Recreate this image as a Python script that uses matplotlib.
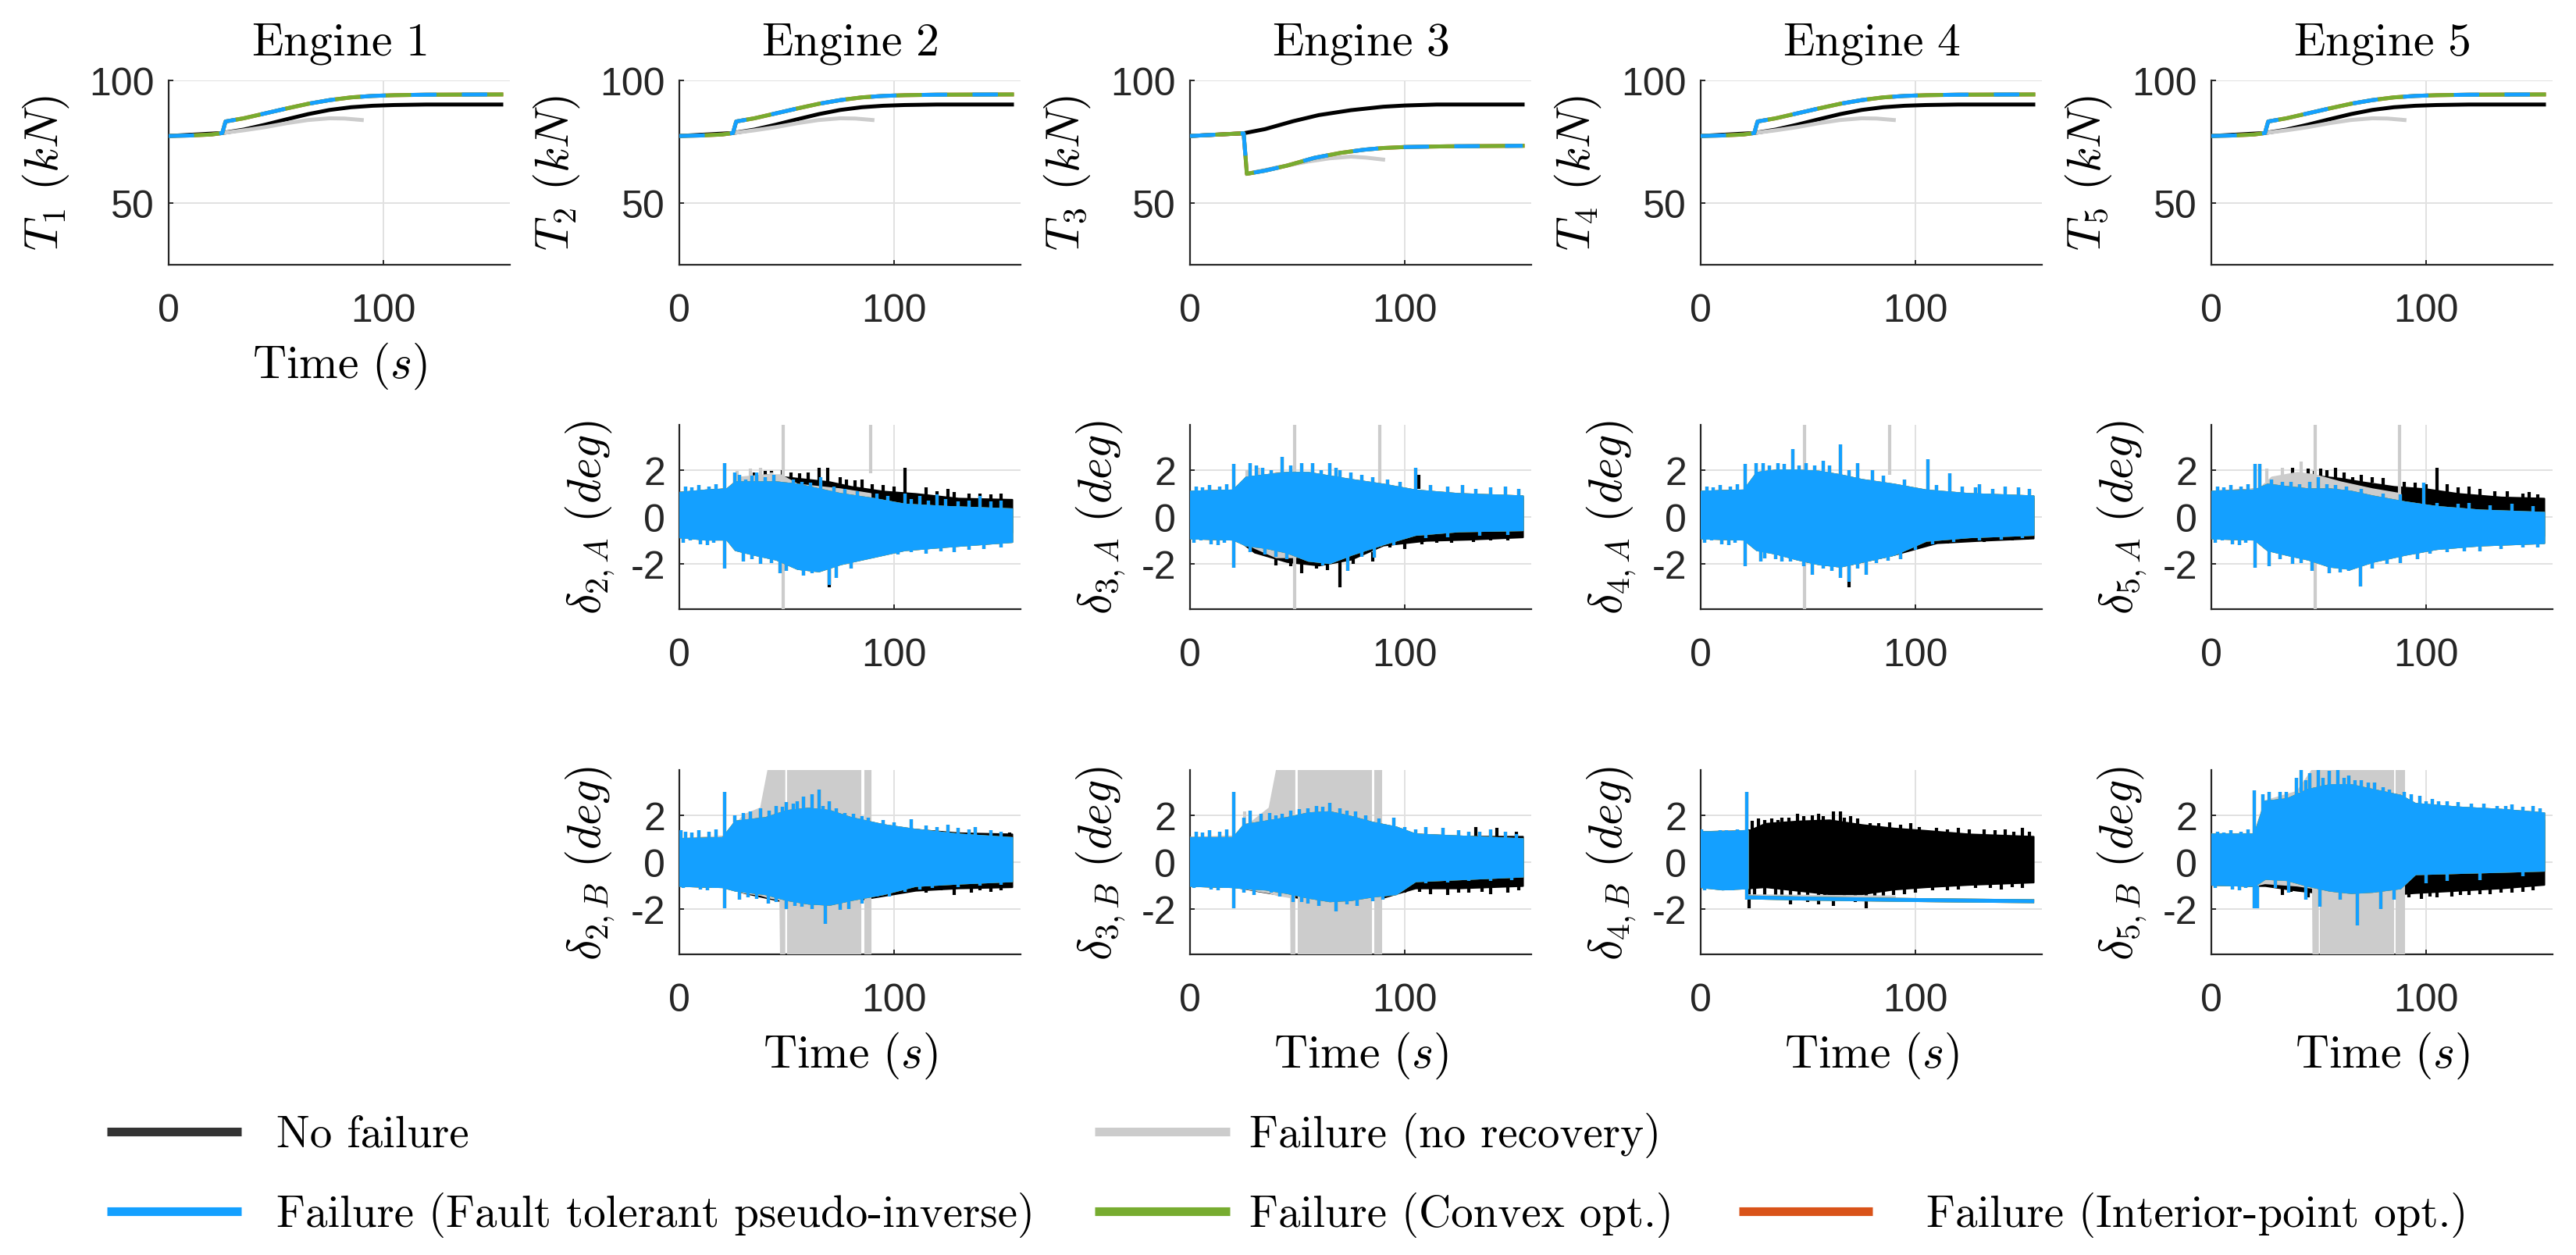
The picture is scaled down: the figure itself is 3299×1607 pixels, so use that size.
import numpy as np
import matplotlib.pyplot as plt
from matplotlib.lines import Line2D

plt.rcParams['mathtext.fontset'] = 'cm'
plt.rcParams['axes.unicode_minus'] = False
plt.rcParams['font.family'] = ['Liberation Sans', 'DejaVu Sans']

nan = np.nan
engines = [1, 2, 3, 4, 5]
labels = ['No failure', 'Failure (no recovery)',
          'Failure (Fault tolerant pseudo-inverse)', 'Failure (Convex opt.)',
          'Failure (Interior-point opt.)']
c_black, c_gray, c_blue, c_green, c_orange = '#000000', '#cccccc', '#14a0ff', '#77ac30', '#d95319'

# thrust (kN), engines 1, 2, 4, 5 look the same
thr_black_t = [0, 25, 35, 45, 55, 65, 75, 85, 95, 105, 120, 155]
thr_black = [77.4, 78.6, 80.0, 82.0, 84.2, 86.3, 88.0, 89.1, 89.7, 90.0, 90.2, 90.2]
thr_gray_t = [25, 35, 45, 55, 65, 75, 82, 90]
thr_gray = [78.6, 79.7, 81.0, 82.6, 83.9, 84.6, 84.5, 83.9]
thr_ft_t = [0, 10, 20, 25, 26.5, 35, 45, 55, 65, 75, 85, 95, 105, 120, 155]
thr_ft = [77.4, 77.6, 78.0, 78.6, 83.3, 84.6, 86.6, 88.6, 90.5, 92.0, 93.1, 93.7, 94.0, 94.2, 94.3]

# thrust (kN), engine 3
thr3_black_t = [0, 25, 35, 48, 60, 75, 90, 100, 115, 155]
thr3_black = [77.4, 78.5, 80.2, 83.4, 85.9, 87.9, 89.3, 89.8, 90.2, 90.2]
thr3_gray_t = [26.5, 40, 55, 65, 75, 82, 90]
thr3_gray = [62.0, 64.5, 67.0, 68.3, 69.0, 68.6, 67.8]
thr3_ft_t = [0, 25, 26.5, 35, 45, 58, 70, 81, 90, 100, 120, 155]
thr3_ft = [77.4, 78.5, 62.0, 63.3, 65.3, 68.5, 70.5, 71.8, 72.5, 72.9, 73.2, 73.4]

# deflections (deg): noisy bands read as (t, low, high), spikes as (t, from, to)
# convex / interior-point results sit under the pseudo-inverse one
pre_fail_spk = [(3, 1.0, 1.3), (6, 1.0, 1.25), (9, 1.0, 1.35), (14, 1.0, 1.3), (17, 1.0, 1.4),
                (2, -0.85, -1.1), (5, -0.85, -1.0), (10, -0.9, -1.15), (13, -0.9, -1.2), (16, -0.9, -1.1)]

dA2_black = [(0, -0.85, 1.05), (22, -0.95, 1.2), (30, -1.3, 1.6), (40, -1.6, 1.8), (50, -1.9, 1.7),
             (60, -2.1, 1.6), (70, -1.9, 1.5), (80, -1.6, 1.3), (95, -1.3, 1.1), (110, -1.0, 1.0),
             (130, -0.8, 0.8), (155, -0.65, 0.75)]
dA2_black_spk = [(43, 1.5, 1.95), (48, 1.5, 2.0), (65, 1.4, 2.1), (69, 1.4, 2.1), (75, 1.3, 1.7),
                 (85, 1.2, 1.6), (105, 1.0, 2.1), (115, 0.9, 1.25), (125, 0.8, 1.2), (140, 0.8, 1.0),
                 (150, 0.7, 1.0), (70, -2.0, -3.0), (35, 1.5, 1.9), (40, 1.6, 1.95), (52, 1.6, 1.9),
                 (56, 1.55, 1.85), (60, 1.5, 1.9), (78, 1.3, 1.6), (82, 1.25, 1.55), (90, 1.15, 1.4),
                 (95, 1.05, 1.35), (100, 1.0, 1.3), (120, 0.85, 1.1), (128, 0.8, 1.05),
                 (135, 0.75, 1.0), (145, 0.7, 0.95)]
dA2_gray = [(0, -0.85, 1.05), (22, -0.95, 1.2), (28, -1.3, 1.7), (40, -1.5, 1.8), (47, -1.6, 1.8),
            (55, -1.5, 1.4), (75, -1.5, 1.2), (89, -1.2, 1.0)]
dA2_gray_spk = [(27, 1.5, 1.95), (33, 1.5, 2.05), (38, 1.5, 2.1), (43, 1.5, 1.9),
                (48.5, -3.95, 3.95), (89, 1.85, 3.95)]
dA2_ft = [(0, -0.85, 1.05), (12, -0.95, 1.15), (22, -0.95, 1.2), (26, -1.4, 1.5), (35, -1.6, 1.5),
          (45, -1.8, 1.5), (55, -2.2, 1.4), (65, -2.3, 1.2), (75, -2.0, 1.0), (90, -1.7, 0.8),
          (105, -1.4, 0.55), (125, -1.25, 0.45), (155, -1.05, 0.35)]
dA2_ft_spk = [(21, -2.2, 2.3), (26, 1.4, 1.9), (31, 1.4, 1.6), (36, 1.4, 1.9), (47, -1.7, -2.4),
              (50, -1.8, -2.3), (58, -2.1, -2.5), (62, -2.2, -2.4), (70, -2.2, -2.9), (73, -2.1, -2.6),
              (80, -1.9, -2.2), (88, -1.7, -1.75), (105, 0.5, 1.0), (112, 0.5, 0.9), (120, 0.4, 0.95),
              (140, 0.4, 0.9), (28, 1.4, 1.8), (34, 1.4, 1.75), (40, 1.4, 1.7), (44, 1.4, 1.8),
              (53, 1.3, 1.6), (57, 1.3, 1.5), (61, 1.2, 1.45), (66, 1.1, 1.7), (72, 1.0, 1.3),
              (77, 0.9, 1.2), (83, 0.8, 1.1), (92, 0.7, 1.0), (97, 0.6, 0.9), (108, 0.5, 0.75),
              (116, 0.4, 0.7), (124, 0.4, 0.75), (130, 0.4, 0.65), (135, 0.35, 0.7), (145, 0.35, 0.65),
              (150, 0.3, 0.7), (30, -1.5, -1.9), (34, -1.6, -1.8), (38, -1.6, -2.0), (43, -1.7, -1.95),
              (102, -1.35, -1.6), (108, -1.3, -1.5), (115, -1.25, -1.55), (122, -1.2, -1.45),
              (128, -1.2, -1.5), (135, -1.15, -1.4), (142, -1.1, -1.35), (150, -1.05, -1.3)]

dA3_black = [(0, -0.9, 1.1), (22, -0.95, 1.15), (30, -1.5, 1.5), (45, -1.9, 1.7), (60, -2.05, 1.7),
             (75, -1.8, 1.5), (90, -1.2, 1.2), (110, -1.0, 1.05), (130, -0.95, 0.95), (155, -0.85, 0.85)]
dA3_black_spk = [(52, -2.0, -2.4), (59, -2.0, -2.2), (70, -1.9, -3.0), (85, -1.5, -1.9),
                 (100, -1.0, -1.35), (115, -0.9, -1.1), (140, -0.8, -1.0), (106.6, 1.2, 1.78),
                 (40, -1.8, -2.05), (47, -1.9, -2.1), (64, -2.0, -2.25), (76, -1.7, -2.0),
                 (93, -1.1, -1.3), (108, -0.95, -1.15), (122, -0.9, -1.1), (132, -0.9, -1.05),
                 (148, -0.8, -1.0)]
dA3_gray = [(0, -0.9, 1.1), (22, -0.95, 1.15), (30, -1.3, 1.6), (40, -1.7, 1.9), (48, -1.7, 1.9),
            (60, -1.6, 1.6), (75, -1.4, 1.4), (89, -1.2, 1.2)]
dA3_gray_spk = [(26.5, 1.5, 2.0), (32, 1.5, 2.1), (48.6, -3.95, 3.95), (88.4, 1.2, 3.95)]
dA3_ft = [(0, -0.9, 1.1), (20, -0.95, 1.15), (26, -1.2, 1.7), (35, -1.3, 1.8), (45, -1.5, 1.9),
          (55, -1.85, 1.9), (65, -1.95, 1.75), (75, -1.6, 1.6), (90, -1.15, 1.4), (105, -0.75, 1.15),
          (125, -0.6, 1.0), (155, -0.55, 0.9)]
dA3_ft_spk = [(20.4, -2.15, 2.27), (28, 1.6, 2.3), (31, 1.6, 2.2), (43, 1.8, 2.57), (52, 1.8, 2.3),
              (57, 1.8, 2.3), (65, 1.7, 2.3), (70, 1.6, 2.0), (80, 1.5, 1.8), (105, 1.1, 2.1),
              (55, -1.8, -1.85), (73.6, -1.7, -2.28), (86, -1.3, -1.74), (34, 1.7, 2.1),
              (38, 1.7, 2.0), (47, 1.8, 2.2), (61, 1.8, 2.0), (68, 1.7, 2.1), (75, 1.5, 1.9),
              (85, 1.3, 1.7), (92, 1.3, 1.6), (98, 1.2, 1.5), (112, 1.0, 1.35), (120, 0.9, 1.3),
              (127, 0.9, 1.35), (133, 0.9, 1.2), (140, 0.85, 1.25), (147, 0.85, 1.3), (153, 0.8, 1.2),
              (28, -1.2, -1.5), (35, -1.3, -1.6), (40, -1.4, -1.7), (45, -1.5, -1.8), (62, -1.9, -2.05),
              (80, -1.45, -1.7), (95, -1.0, -1.2), (110, -0.7, -0.9), (120, -0.65, -0.85),
              (135, -0.6, -0.8), (148, -0.55, -0.75)]

dA4_black = [(0, -0.9, 1.1), (22, -0.95, 1.15), (30, -1.4, 1.6), (50, -1.9, 1.7), (70, -2.0, 1.5),
             (90, -1.6, 1.2), (110, -1.1, 1.0), (130, -1.0, 0.9), (155, -0.9, 0.8)]
dA4_black_spk = [(69.3, -2.0, -3.0), (59, -1.9, -2.1), (115, -1.0, -1.13), (125, -0.95, -1.05),
                 (138, -0.9, -1.0), (120, -0.95, -1.1), (132, -0.9, -1.05), (145, -0.85, -1.0),
                 (152, -0.8, -0.95)]
dA4_gray = [(0, -0.9, 1.1), (22, -0.95, 1.15), (30, -1.3, 1.7), (40, -1.6, 1.9), (48, -1.6, 1.9),
            (60, -1.5, 1.6), (75, -1.4, 1.4), (88, -1.2, 1.2)]
dA4_gray_spk = [(48.3, -3.95, 3.95), (88, 1.78, 3.95)]
dA4_ft = [(0, -0.9, 1.1), (20, -0.95, 1.15), (26, -1.4, 1.9), (35, -1.55, 2.0), (45, -1.8, 2.0),
          (55, -2.0, 1.95), (65, -2.1, 1.8), (75, -1.9, 1.6), (90, -1.6, 1.4), (105, -1.0, 1.15),
          (125, -0.85, 1.0), (155, -0.75, 0.9)]
dA4_ft_spk = [(20.7, -2.1, 2.27), (26, 1.8, 2.3), (29, 1.8, 2.3), (36, 1.9, 2.3), (43, 1.9, 2.9),
              (49, 1.9, 2.3), (57, 1.9, 2.4), (60, 1.9, 2.2), (65, 1.8, 3.1), (73, 1.6, 2.3),
              (80, 1.5, 2.0), (106, 1.1, 2.45), (116, 1.0, 1.85), (130, 0.9, 1.4), (153, 0.9, 1.2),
              (28, -1.4, -1.9), (42, -1.7, -1.9), (48, -1.8, -2.1), (52, -1.9, -2.45), (65, -2.0, -2.6),
              (69, -2.0, -2.75), (77, -1.8, -2.45), (87.5, -1.6, -1.85), (93, -1.5, -1.8),
              (32, 1.9, 2.2), (39, 1.9, 2.25), (46, 1.9, 2.2), (53, 1.9, 2.2), (69, 1.7, 2.0),
              (85, 1.4, 1.75), (95, 1.3, 1.6), (110, 1.05, 1.35), (122, 0.95, 1.3), (128, 0.95, 1.25),
              (136, 0.9, 1.2), (142, 0.9, 1.3), (148, 0.9, 1.25), (30, -1.5, -1.75), (35, -1.55, -1.8),
              (38, -1.6, -1.9), (57, -2.0, -2.2), (61, -2.05, -2.3), (73, -1.9, -2.2),
              (82, -1.7, -1.95), (100, -1.2, -1.4), (108, -0.95, -1.15), (118, -0.85, -1.05),
              (130, -0.8, -1.0), (140, -0.75, -0.95), (150, -0.75, -0.9)]

dA5_black = [(0, -0.9, 1.1), (22, -0.95, 1.2), (30, -1.3, 1.5), (40, -1.6, 1.7), (50, -1.8, 1.75),
             (60, -2.0, 1.65), (70, -1.9, 1.5), (85, -1.6, 1.3), (100, -1.3, 1.2), (115, -1.0, 1.0),
             (135, -0.9, 0.85), (155, -0.8, 0.8)]
dA5_black_spk = [(38, 1.5, 2.1), (45, 1.5, 2.05), (51, 1.5, 2.05), (58, 1.5, 2.1), (66, 1.4, 1.7),
                 (105, 1.1, 2.1), (110, 1.0, 1.4), (120, 0.9, 1.3), (132, 0.8, 1.1), (145, 0.8, 1.0),
                 (152, 0.7, 0.95), (42, 1.6, 1.9), (48, 1.7, 1.95), (54, 1.7, 2.0), (62, 1.6, 1.9),
                 (70, 1.5, 1.8), (75, 1.45, 1.7), (80, 1.35, 1.65), (90, 1.25, 1.5), (95, 1.2, 1.45),
                 (100, 1.2, 1.4), (115, 1.0, 1.25), (125, 0.9, 1.2), (138, 0.85, 1.1), (148, 0.8, 1.05)]
dA5_gray = [(0, -0.9, 1.1), (22, -0.95, 1.2), (28, -1.3, 1.7), (40, -1.5, 1.9), (48, -1.6, 1.8),
            (60, -1.6, 1.5), (75, -1.4, 1.2), (88, -1.2, 1.0)]
dA5_gray_spk = [(26, 1.5, 2.05), (33, 1.5, 2.1), (42, 1.6, 2.35), (48.3, -3.95, 3.95), (87.8, 1.0, 3.95)]
dA5_ft = [(0, -0.9, 1.1), (20, -0.95, 1.15), (26, -1.4, 1.4), (35, -1.6, 1.3), (45, -1.8, 1.2),
          (55, -2.1, 1.2), (65, -2.2, 1.1), (75, -1.9, 0.9), (90, -1.6, 0.65), (105, -1.35, 0.45),
          (125, -1.2, 0.3), (155, -1.1, 0.2)]
dA5_ft_spk = [(20.4, -2.15, 2.27), (22.5, 1.1, 2.27), (33, 1.2, 1.5), (50, 1.1, 1.7), (99, 0.5, 1.45),
              (27, -1.4, -2.1), (38, -1.6, -2.0), (47, -1.8, -2.3), (55, -2.1, -2.4), (60, -2.1, -2.35),
              (69.6, -2.1, -2.95), (75, -1.9, -2.2), (88, -1.6, -1.95), (96, -1.5, -1.8),
              (110, -1.3, -1.5), (125, -1.2, -1.45), (145, -1.1, -1.3), (28, 1.3, 1.6),
              (37, 1.2, 1.5), (41, 1.2, 1.4), (46, 1.1, 1.5), (54, 1.1, 1.4), (58, 1.1, 1.35),
              (63, 1.0, 1.3), (70, 0.9, 1.2), (80, 0.8, 1.0), (88, 0.6, 0.95), (105, 0.4, 0.6),
              (115, 0.3, 0.55), (120, 0.3, 0.6), (130, 0.25, 0.5), (140, 0.2, 0.55), (150, 0.2, 0.45),
              (32, -1.5, -1.8), (42, -1.7, -1.95), (64, -2.1, -2.3), (82, -1.75, -2.0),
              (102, -1.35, -1.55), (118, -1.25, -1.45), (135, -1.15, -1.35), (152, -1.1, -1.3)]

dB2_black = [(0, -1.0, 1.0), (22, -1.05, 1.1), (30, -1.3, 1.5), (50, -1.7, 1.9), (70, -1.8, 1.9),
             (90, -1.5, 1.6), (110, -1.2, 1.4), (130, -1.1, 1.25), (155, -1.05, 1.2)]
dB2_black_spk = [(115, -1.0, -1.3), (122, -1.0, -1.2), (128, -1.0, -1.4), (136, -1.0, -1.3),
                 (145, -0.9, -1.25), (150, -0.9, -1.2), (154, 0.9, 1.25), (102, -1.1, -1.3),
                 (108, -1.05, -1.25), (140, -0.95, -1.2)]
dB2_gray = [(0, -1.0, 1.0), (22, -1.05, 1.1), (30, -1.3, 2.0), (38, -1.4, 2.3), (41.5, -1.5, 3.95),
            (47, -1.6, 3.95), (47.3, -3.95, 3.95), (49.0, -3.95, 3.95), (49.1, nan, nan),
            (50.6, nan, nan), (50.7, -3.95, 3.95), (84.5, -3.95, 3.95), (84.6, nan, nan),
            (86.5, nan, nan), (86.6, -3.95, 3.95), (89.2, -3.95, 3.95)]
dB2_gray_spk = []
dB2_ft = [(0, -1.0, 1.0), (20, -1.05, 1.05), (26, -1.2, 1.75), (40, -1.35, 1.9), (50, -1.6, 2.2),
          (60, -1.75, 2.3), (70, -1.8, 2.2), (80, -1.6, 1.9), (95, -1.35, 1.6), (110, -1.0, 1.4),
          (130, -0.9, 1.2), (155, -0.8, 1.05)]
dB2_ft_spk = [(21, -1.97, 2.99), (0.8, 0.9, 1.37), (30, 1.7, 2.1), (38, 1.8, 2.3), (45, 2.0, 2.4),
              (50, 2.0, 2.55), (55, 2.1, 2.6), (58, 2.2, 2.8), (62, 2.2, 2.9), (65, 2.2, 3.1),
              (70, 2.1, 2.6), (77, 1.8, 2.1), (85, 1.7, 1.95), (95, 1.5, 1.8), (108, 1.3, 1.83),
              (125, 1.1, 1.6), (138, 1.0, 1.5), (28, -1.2, -1.6), (41.6, -1.4, -1.75),
              (50, -1.6, -2.0), (57, -1.7, -1.9), (68, -1.8, -2.63), (75, -1.7, -2.03),
              (79, -1.6, -2.0), (92, -1.4, -1.45), (26, 1.6, 2.0), (33, 1.8, 2.15), (42, 1.9, 2.2),
              (48, 2.0, 2.35), (53, 2.2, 2.5), (67, 2.1, 2.4), (73, 2.0, 2.3), (81, 1.8, 2.05),
              (88, 1.6, 1.9), (100, 1.45, 1.7), (115, 1.3, 1.55), (120, 1.2, 1.5), (130, 1.15, 1.45),
              (135, 1.1, 1.4), (145, 1.05, 1.35), (150, 1.05, 1.3), (32, -1.25, -1.5),
              (36, -1.3, -1.55), (45, -1.5, -1.7), (54, -1.65, -1.85), (62, -1.75, -2.0),
              (85, -1.5, -1.75), (98, -1.3, -1.45), (105, -1.05, -1.25), (112, -1.0, -1.15),
              (118, -0.95, -1.1), (130, -0.9, -1.05), (140, -0.85, -1.0), (150, -0.8, -0.95)]

dB3_black = [(0, -1.0, 1.05), (22, -1.05, 1.1), (30, -1.2, 1.5), (50, -1.5, 1.8), (70, -1.7, 1.8),
             (90, -1.5, 1.5), (105, -1.1, 1.2), (125, -1.1, 1.1), (155, -1.0, 1.1)]
dB3_black_spk = [(100, -1.0, -1.3), (112, -1.0, -1.35), (120, -1.0, -1.4), (130, -1.0, -1.3),
                 (140, -1.0, -1.35), (148, -0.9, -1.3), (133, 1.0, 1.5), (143, 1.0, 1.45),
                 (152, 0.9, 1.3), (70, -1.6, -1.9), (60, -1.5, -1.8), (107, -1.05, -1.25),
                 (125, -1.0, -1.3), (136, -1.0, -1.25), (153, -0.9, -1.2)]
dB3_gray = [(0, -1.0, 1.05), (22, -1.05, 1.1), (30, -1.2, 1.8), (37, -1.3, 2.3), (40.5, -1.4, 3.95),
            (47, -1.5, 3.95), (47.2, -3.95, 3.95), (48.7, -3.95, 3.95), (48.8, nan, nan),
            (50.5, nan, nan), (50.6, -3.95, 3.95), (84.5, -3.95, 3.95), (84.6, nan, nan),
            (86.1, nan, nan), (86.2, -3.95, 3.95), (89.3, -3.95, 3.95)]
dB3_gray_spk = [(25.5, 1.5, 2.16)]
dB3_ft = [(0, -1.0, 1.05), (20, -1.05, 1.05), (25, -1.1, 1.6), (35, -1.15, 1.75), (45, -1.3, 1.9),
          (55, -1.5, 2.1), (65, -1.65, 2.15), (75, -1.6, 1.95), (85, -1.45, 1.7), (96, -1.35, 1.5),
          (105, -0.8, 1.2), (130, -0.7, 1.1), (155, -0.6, 1.0)]
dB3_ft_spk = [(20.4, -1.97, 2.99), (28, 1.6, 2.2), (33, 1.6, 2.05), (40, 1.7, 2.0), (47, 1.8, 2.2),
              (55, 2.0, 2.3), (59, 2.0, 2.4), (65, 2.0, 2.52), (70, 2.0, 2.3), (73, 1.9, 2.2),
              (95, 1.4, 1.88), (110, 1.1, 1.5), (118, 1.1, 1.45), (140, 1.0, 1.4),
              (30, -1.1, -1.4), (38, -1.2, -1.3), (48, -1.3, -1.7), (55, -1.5, -1.75),
              (68, -1.6, -2.1), (78, -1.5, -1.85), (90, -1.4, -1.6), (110, -0.7, -0.9),
              (25, 1.5, 1.9), (37, 1.7, 2.1), (43, 1.8, 2.05), (51, 2.0, 2.25), (62, 2.1, 2.35),
              (77, 1.9, 2.15), (82, 1.7, 2.0), (88, 1.6, 1.85), (100, 1.2, 1.5), (105, 1.15, 1.4),
              (125, 1.05, 1.35), (130, 1.05, 1.3), (135, 1.0, 1.3), (147, 1.0, 1.3), (152, 0.95, 1.2),
              (25, -1.1, -1.3), (42, -1.25, -1.45), (52, -1.45, -1.7), (60, -1.6, -1.85),
              (73, -1.6, -1.8), (85, -1.45, -1.65), (100, -0.75, -0.95), (120, -0.65, -0.85),
              (130, -0.65, -0.8), (140, -0.6, -0.8), (150, -0.55, -0.75)]

dB4_black = [(0, -1.05, 1.3), (21.8, -1.1, 1.35), (22.5, -1.1, 1.35), (30, -1.05, 1.65),
             (45, -1.2, 1.75), (60, -1.35, 1.8), (75, -1.35, 1.6), (90, -1.15, 1.45),
             (105, -1.05, 1.35), (125, -0.95, 1.2), (155, -0.85, 1.1)]
dB4_black_spk = [(22.5, -1.96, 1.4), (27, 1.5, 1.85), (33, 1.5, 1.85), (38, 1.6, 1.9), (45, 1.6, 2.05),
                 (52, 1.6, 2.0), (57, 1.6, 1.95), (62, 1.6, 2.17), (65, 1.6, 2.17), (70, 1.5, 1.95),
                 (79, 1.4, 1.67), (88, 1.3, 1.7), (98, 1.3, 1.67), (110, 1.2, 1.45), (120, 1.1, 1.45),
                 (132, 1.1, 1.4), (142, 1.0, 1.4), (150, 1.0, 1.45), (42, -1.1, -1.8), (50, -1.2, -1.7),
                 (55, -1.2, -1.8), (62, -1.3, -1.85), (77, -1.3, -1.96), (85, -1.1, -1.5),
                 (95, -1.0, -1.35), (115, -0.9, -1.2), (128, -0.9, -1.1), (145, -0.8, -1.05),
                 (24, 1.3, 1.75), (30, 1.6, 1.8), (36, 1.6, 1.8), (41, 1.65, 1.9), (48, 1.7, 1.95),
                 (55, 1.75, 2.05), (67, 1.6, 1.9), (73, 1.55, 1.85), (83, 1.45, 1.65), (93, 1.4, 1.6),
                 (102, 1.3, 1.5), (115, 1.2, 1.4), (125, 1.15, 1.4), (137, 1.1, 1.35), (146, 1.05, 1.3),
                 (153, 1.05, 1.3), (25, -1.05, -1.4), (30, -1.05, -1.4), (35, -1.1, -1.5),
                 (38, -1.15, -1.45), (46, -1.2, -1.55), (58, -1.3, -1.6), (67, -1.35, -1.6),
                 (72, -1.35, -1.7), (81, -1.25, -1.5), (90, -1.15, -1.4), (100, -1.05, -1.3),
                 (108, -1.0, -1.2), (120, -0.95, -1.15), (135, -0.9, -1.1), (140, -0.9, -1.15),
                 (150, -0.85, -1.1)]
dB4_gray = [(0, -1.05, 1.3), (21.8, -1.1, 1.35)]
dB4_gray_spk = []
dB4_gray_stuck_t = [22.5, 90]
dB4_gray_stuck = [-1.45, -1.5]
dB4_ft = [(0, -1.05, 1.3), (10, -1.15, 1.3), (21.8, -1.1, 1.35)]
dB4_ft_spk = [(21.5, -1.6, 3.0), (0.5, 1.0, 1.4), (5, 1.0, 1.25), (12, 1.0, 1.35), (2, -0.9, -1.2),
              (8, -0.9, -1.15), (15, -0.9, -1.2)]
dB4_ft_stuck_t = [22.5, 50, 90, 120, 154.5]
dB4_ft_stuck = [-1.5, -1.55, -1.6, -1.63, -1.66]

dB5_black = [(0, -0.95, 1.2), (20, -1.0, 1.2), (25, -1.0, 2.0), (40, -1.2, 2.5), (60, -1.4, 2.8),
             (80, -1.4, 2.5), (95, -1.3, 2.2), (115, -1.2, 2.0), (135, -1.1, 1.9), (155, -0.95, 1.8)]
dB5_black_spk = [(33, -0.9, -1.4), (37, -1.0, -1.25), (45, -1.1, -1.5), (98, -1.2, -1.55),
                 (105, -1.2, -1.5), (112, -1.1, -1.45), (120, -1.1, -1.4), (130, -1.0, -1.35),
                 (140, -1.0, -1.3), (150, -0.9, -1.2), (92, -1.25, -1.5), (102, -1.2, -1.45),
                 (116, -1.15, -1.4), (125, -1.1, -1.35), (135, -1.05, -1.3), (145, -1.0, -1.25)]
dB5_gray = [(0, -0.95, 1.2), (20, -1.0, 1.2), (25, -0.9, 2.6), (40, -1.0, 3.0), (47.3, -1.1, 3.95),
            (47.5, -3.95, 3.95), (49.7, -3.95, 3.95), (49.8, nan, nan), (50.9, nan, nan),
            (51.0, -3.95, 3.95), (84.8, -3.95, 3.95), (84.9, nan, nan), (86.3, nan, nan),
            (86.4, -3.95, 3.95), (89.8, -3.95, 3.95)]
dB5_gray_spk = []
dB5_ft = [(0, -0.95, 1.2), (20, -1.0, 1.2), (25, -0.7, 2.6), (35, -0.75, 2.7), (45, -1.0, 3.1),
          (55, -1.2, 3.3), (65, -1.3, 3.3), (75, -1.25, 3.1), (88, -1.1, 2.85), (95, -0.5, 2.5),
          (115, -0.45, 2.35), (135, -0.4, 2.25), (155, -0.35, 2.1)]
dB5_ft_spk = [(20, -1.96, 3.05), (27, 2.4, 3.0), (32, 2.5, 3.0), (39.6, 2.7, 3.6), (42, 3.0, 3.95),
              (46, 3.0, 3.8), (50, 3.1, 3.95), (55, 3.2, 3.9), (59, 3.2, 3.95), (64, 3.2, 3.7),
              (70, 3.1, 3.5), (76, 3.0, 3.4), (83, 2.8, 3.1), (97, 2.4, 2.83), (103, 2.3, 2.7),
              (110, 2.3, 2.6), (121, 2.2, 2.5), (133, 2.2, 2.4), (140, 2.1, 2.45), (150, 2.0, 2.4),
              (21.5, -1.0, -1.96), (30, -0.7, -1.1), (36, -0.75, -1.3), (44, -0.9, -1.6),
              (50.7, -1.1, -1.9), (60, -1.2, -1.6), (68, -1.3, -2.68), (79, -1.2, -2.0),
              (85, -1.1, -1.6), (100, -0.45, -0.9), (110, -0.45, -0.8), (125, -0.4, -0.75),
              (145, -0.35, -0.6), (24, 2.0, 2.9), (35, 2.6, 3.0), (44, 3.0, 3.5), (52, 3.2, 3.6),
              (62, 3.2, 3.6), (67, 3.2, 3.5), (73, 3.0, 3.4), (80, 2.9, 3.2), (90, 2.6, 3.0),
              (93, 2.5, 2.9), (100, 2.4, 2.6), (106, 2.35, 2.6), (115, 2.3, 2.55), (127, 2.2, 2.5),
              (137, 2.15, 2.4), (145, 2.1, 2.35), (153, 2.1, 2.3)]

W, H = 3299, 1608
col_left = [216, 870, 1524, 2178, 2832]
row_top = [104, 545, 987]
ax_w, ax_h = 437, 236


def style(ax, ylim, yticks):
    ax.set_xlim(0, 159)
    ax.set_ylim(*ylim)
    ax.set_xticks([0, 100])
    ax.set_yticks(yticks)
    ax.grid(True, color='#e1e1e1', lw=1.4)
    ax.set_axisbelow(True)
    ax.spines['top'].set_visible(False)
    ax.spines['right'].set_visible(False)
    for s in ['left', 'bottom']:
        ax.spines[s].set_color('#262626')
        ax.spines[s].set_linewidth(1.6)
    ax.tick_params(direction='in', length=4, width=1.4, colors='#262626', labelsize=36)
    ax.tick_params(axis='x', pad=26)
    ax.tick_params(axis='y', pad=13)


def band(ax, rows, color, z):
    t, lo, hi = np.array(rows, dtype=float).T
    ax.fill_between(t, lo, hi, color=color, lw=1.5, zorder=z)


def spikes(ax, rows, color, z):
    if len(rows) == 0:
        return
    t, y0, y1 = np.array(rows, dtype=float).T
    ax.vlines(t, y0, y1, color=color, lw=3, zorder=z)


fig = plt.figure(figsize=(W / 100, H / 100), dpi=100)

axes = {}
for c, e in enumerate(engines):
    for r in range(3):
        if c == 0 and r > 0:
            continue
        x0 = col_left[c] / W
        y0 = 1 - (row_top[r] + ax_h) / H
        axes[(r, c)] = fig.add_axes([x0, y0, ax_w / W, ax_h / H])

# thrust row
for c, e in enumerate(engines):
    ax = axes[(0, c)]
    if e == 3:
        bt, b, gt, g, ft, f = thr3_black_t, thr3_black, thr3_gray_t, thr3_gray, thr3_ft_t, thr3_ft
    else:
        bt, b, gt, g, ft, f = thr_black_t, thr_black, thr_gray_t, thr_gray, thr_ft_t, thr_ft
    ax.plot(bt, b, color=c_black, lw=3.6, zorder=2)
    ax.plot(gt, g, color=c_gray, lw=3.6, zorder=3)
    ax.plot(ft, f, color=c_orange, lw=3.6, zorder=4)
    ax.plot(ft, f, color=c_green, lw=3.6, zorder=5)
    ax.plot(ft, f, color=c_blue, lw=3.6, zorder=6, linestyle=(0, (6.5, 6.5)))
    style(ax, (25, 100), [50, 100])
    ax.set_title(r'$\mathrm{Engine\ %d}$' % e, fontsize=43, pad=24)
    ax.set_ylabel(r'$T_%d\ (kN)$' % e, fontsize=43)
    ax.yaxis.set_label_coords(-0.285, 0.5)
    if e == 1:
        ax.set_xlabel(r'$\mathrm{Time}\ (s)$', fontsize=43)
        ax.xaxis.set_label_coords(0.5, -0.41)

defl = {
    (1, 2): (dA2_black, dA2_black_spk, dA2_gray, dA2_gray_spk, dA2_ft, dA2_ft_spk),
    (1, 3): (dA3_black, dA3_black_spk, dA3_gray, dA3_gray_spk, dA3_ft, dA3_ft_spk),
    (1, 4): (dA4_black, dA4_black_spk, dA4_gray, dA4_gray_spk, dA4_ft, dA4_ft_spk),
    (1, 5): (dA5_black, dA5_black_spk, dA5_gray, dA5_gray_spk, dA5_ft, dA5_ft_spk),
    (2, 2): (dB2_black, dB2_black_spk, dB2_gray, dB2_gray_spk, dB2_ft, dB2_ft_spk),
    (2, 3): (dB3_black, dB3_black_spk, dB3_gray, dB3_gray_spk, dB3_ft, dB3_ft_spk),
    (2, 4): (dB4_black, dB4_black_spk, dB4_gray, dB4_gray_spk, dB4_ft, dB4_ft_spk),
    (2, 5): (dB5_black, dB5_black_spk, dB5_gray, dB5_gray_spk, dB5_ft, dB5_ft_spk),
}

for (r, e), (bk, bk_s, gr, gr_s, ft, ft_s) in defl.items():
    ax = axes[(r, e - 1)]
    band(ax, bk, c_black, 2)
    spikes(ax, bk_s, c_black, 2)
    band(ax, gr, c_gray, 3)
    spikes(ax, gr_s, c_gray, 3)
    for col, z in [(c_orange, 4), (c_green, 5), (c_blue, 6)]:
        band(ax, ft, col, z)
        spikes(ax, ft_s + pre_fail_spk, col, z)
    if (r, e) == (2, 4):
        ax.plot(dB4_gray_stuck_t, dB4_gray_stuck, color=c_gray, lw=3.6, zorder=3)
        for col, z in [(c_orange, 4), (c_green, 5), (c_blue, 6)]:
            ax.plot(dB4_ft_stuck_t, dB4_ft_stuck, color=col, lw=3.6, zorder=z)
    style(ax, (-3.92, 3.92), [-2, 0, 2])
    side = 'A' if r == 1 else 'B'
    ax.set_ylabel(r'$\delta_{%d,%s}\ (deg)$' % (e, side), fontsize=43)
    ax.yaxis.set_label_coords(-0.183, 0.5)
    if r == 2:
        ax.set_xlabel(r'$\mathrm{Time}\ (s)$', fontsize=43)
        ax.xaxis.set_label_coords(0.5, -0.41)

# legend drawn by hand in two rows
leg_colors = ['#333333', c_gray, c_blue, c_green, c_orange]
leg_x = [(137, 309, 354), (1402, 1575, 1600), (137, 309, 354), (1402, 1575, 1600), (2227, 2398, 2467)]
leg_y = [1450, 1450, 1552, 1552, 1552]
for lab, col, (xa, xb, xt), yy in zip(labels, leg_colors, leg_x, leg_y):
    fig.add_artist(Line2D([xa / W, xb / W], [1 - yy / H, 1 - yy / H], color=col, lw=8,
                          solid_capstyle='butt', transform=fig.transFigure))
    fig.text(xt / W, 1 - (yy + 19) / H, lab, fontsize=41, family='cmr10', va='baseline', ha='left')

fig.savefig('out.png', dpi=100, facecolor='white')
